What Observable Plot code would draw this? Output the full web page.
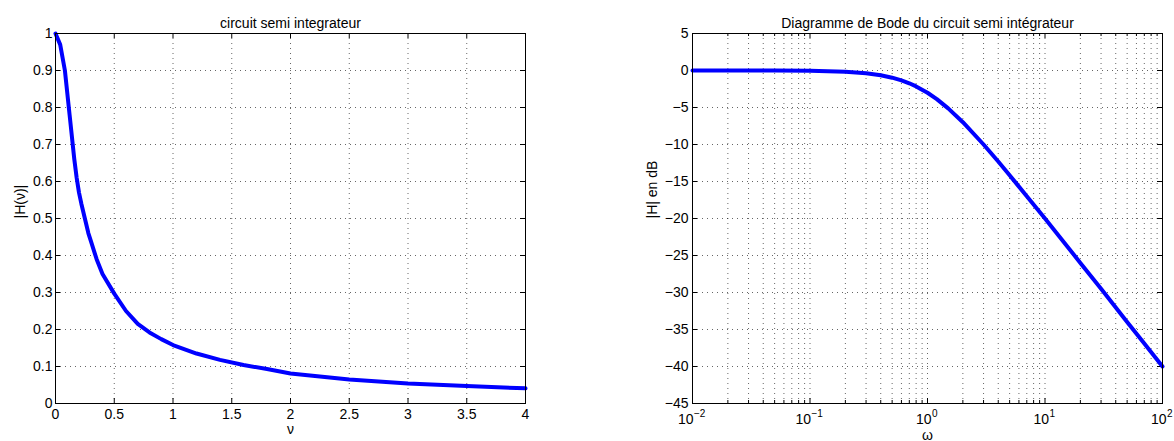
<!DOCTYPE html>
<html>
<head>
<meta charset="utf-8">
<script src="https://cdn.jsdelivr.net/npm/d3@7"></script>
<script src="https://cdn.jsdelivr.net/npm/@observablehq/plot@0.6"></script>
<style>
  html, body { margin: 0; padding: 0; background: #fff; }
  #wrap { position: relative; width: 1174px; height: 441px; overflow: hidden; background: #fff; }
  #left, #right { position: absolute; top: 0; }
  #left { left: 0; }
  #right { left: 587px; }
</style>
</head>
<body>
<div id="wrap"><div id="left"></div><div id="right"></div></div>
<script>
// ---- Left chart data: |H(nu)| vs nu
const nu = [0, 0.04, 0.08, 0.12, 0.16, 0.18, 0.2, 0.22, 0.25, 0.28, 0.3, 0.35, 0.4, 0.5, 0.6, 0.7, 0.8, 0.9, 1.0, 1.2, 1.4, 1.6, 1.8, 2.0, 2.5, 3.0, 3.5, 4.0];
const Hnu = [1, 0.97, 0.90, 0.78, 0.66, 0.61, 0.57, 0.54, 0.50, 0.46, 0.44, 0.39, 0.35, 0.297, 0.25, 0.215, 0.192, 0.174, 0.158, 0.135, 0.118, 0.104, 0.093, 0.081, 0.065, 0.054, 0.047, 0.041];
const xTicksL = [0, 0.5, 1, 1.5, 2, 2.5, 3, 3.5, 4];
const yTicksL = [0, 0.1, 0.2, 0.3, 0.4, 0.5, 0.6, 0.7, 0.8, 0.9, 1];

// ---- Right chart data: Bode magnitude (dB) vs omega
const omega = [0.01, 0.02, 0.05, 0.1, 0.2, 0.3, 0.4, 0.5, 0.6, 0.7, 0.8, 1, 1.2, 1.5, 2, 3, 4, 5, 7, 10, 15, 20, 30, 50, 70, 100];
const dB = [0, 0, -0.01, -0.04, -0.17, -0.37, -0.64, -0.97, -1.34, -1.73, -2.15, -3.01, -3.87, -5.12, -6.99, -10.0, -12.3, -14.15, -17.0, -20.0, -23.5, -26.0, -29.5, -34.0, -36.9, -40.0];
const decades = [0.01, 0.1, 1, 10, 100];
const exponents = ["\u22122", "\u22121", "0", "1", "2"];
const multipliers = [2, 3, 4, 5, 6, 7, 8, 9];
const yTicksR = [5, 0, -5, -10, -15, -20, -25, -30, -35, -40, -45];

const leftTitle = "circuit semi integrateur";
const rightTitle = "Diagramme de Bode du circuit semi intégrateur";

const font = "'Liberation Sans', Arial, Helvetica, sans-serif";
const styleObj = { fontFamily: font, fontSize: "14px", background: "white", color: "black", overflow: "visible" };
const grid = { stroke: "#000", strokeOpacity: 0.6, strokeDasharray: "1,4" };
const blue = "#0000ff";
const fmtPlain = d => String(d);
const fmtMinus = d => (d < 0 ? "\u2212" + Math.abs(d) : String(d));

// ---------------- Left plot
const W = 587, HT = 441;
const mL = { l: 55, r: 62, t: 33, b: 38 };
const innerWL = W - mL.l - mL.r, innerHL = HT - mL.t - mL.b;
const leftData = nu.map((v, i) => ({ nu: v, h: Hnu[i] }));

const left = Plot.plot({
  width: W, height: HT,
  marginLeft: mL.l, marginRight: mL.r, marginTop: mL.t, marginBottom: mL.b,
  x: { domain: [0, 4], axis: null },
  y: { domain: [0, 1], axis: null },
  style: styleObj,
  marks: [
    Plot.ruleX(xTicksL.slice(1, -1), grid),
    Plot.ruleY(yTicksL.slice(1, -1), grid),
    Plot.ruleX(xTicksL, { insetTop: innerHL - 5, stroke: "#000" }),
    Plot.ruleX(xTicksL, { insetBottom: innerHL - 5, stroke: "#000" }),
    Plot.ruleY(yTicksL, { insetRight: innerWL - 5, stroke: "#000" }),
    Plot.ruleY(yTicksL, { insetLeft: innerWL - 5, stroke: "#000" }),
    Plot.line(leftData, { x: "nu", y: "h", stroke: blue, strokeWidth: 4, strokeLinejoin: "round" }),
    Plot.frame({ stroke: "#000" }),
    Plot.axisX(xTicksL, { tickSize: 0, tickPadding: 6, label: null, fontSize: 14, tickFormat: fmtPlain }),
    Plot.axisY(yTicksL, { tickSize: 0, tickPadding: 3, label: null, fontSize: 14, tickFormat: fmtPlain }),
    Plot.text([leftTitle], { text: d => d, frameAnchor: "top", dy: -15, fontSize: 14 }),
    Plot.text(["ν"], { text: d => d, frameAnchor: "bottom", dy: 30, fontSize: 14 }),
    Plot.text(["|H(ν)|"], { text: d => d, frameAnchor: "left", dx: -35, rotate: -90, fontSize: 14 })
  ]
});
document.getElementById("left").appendChild(left);

// ---------------- Right plot
const mR = { l: 105, r: 12, t: 33, b: 38 };
const innerWR = W - mR.l - mR.r, innerHR = HT - mR.t - mR.b;
const rightData = omega.map((w, i) => ({ w, db: dB[i] }));
const minorX = decades.slice(0, 4).flatMap(d => multipliers.map(m => +(d * m).toPrecision(6)));
const xLabels = decades.map((d, i) => ({ d, e: exponents[i] }));
const negLabels = xLabels.filter(o => o.d < 1);
const posLabels = xLabels.filter(o => o.d >= 1);

const right = Plot.plot({
  width: W, height: HT,
  marginLeft: mR.l, marginRight: mR.r, marginTop: mR.t, marginBottom: mR.b,
  x: { type: "log", domain: [0.01, 100], axis: null },
  y: { domain: [-45, 5], axis: null },
  style: styleObj,
  marks: [
    Plot.ruleX([...minorX, ...decades.slice(1, 4)], grid),
    Plot.ruleY(yTicksR.slice(1, -1), grid),
    Plot.ruleX(decades, { insetTop: innerHR - 5, stroke: "#000" }),
    Plot.ruleX(decades, { insetBottom: innerHR - 5, stroke: "#000" }),
    Plot.ruleX(minorX, { insetTop: innerHR - 3, stroke: "#000" }),
    Plot.ruleX(minorX, { insetBottom: innerHR - 3, stroke: "#000" }),
    Plot.ruleY(yTicksR, { insetRight: innerWR - 5, stroke: "#000" }),
    Plot.ruleY(yTicksR, { insetLeft: innerWR - 5, stroke: "#000" }),
    Plot.line(rightData, { x: "w", y: "db", stroke: blue, strokeWidth: 4, strokeLinejoin: "round" }),
    Plot.frame({ stroke: "#000" }),
    Plot.axisY(yTicksR, { tickSize: 0, tickPadding: 4, label: null, fontSize: 14, tickFormat: fmtMinus }),
    Plot.text(negLabels, { x: "d", text: () => "10", frameAnchor: "bottom", textAnchor: "end", lineAnchor: "top", dx: 1, dy: 11, fontSize: 14 }),
    Plot.text(negLabels, { x: "d", text: "e", frameAnchor: "bottom", textAnchor: "start", lineAnchor: "top", dx: 1.5, dy: 6.5, fontSize: 10 }),
    Plot.text(posLabels, { x: "d", text: () => "10", frameAnchor: "bottom", textAnchor: "end", lineAnchor: "top", dx: 4, dy: 11, fontSize: 14 }),
    Plot.text(posLabels, { x: "d", text: "e", frameAnchor: "bottom", textAnchor: "start", lineAnchor: "top", dx: 4.5, dy: 6.5, fontSize: 10 }),
    Plot.text([rightTitle], { text: d => d, frameAnchor: "top", dy: -15, fontSize: 14 }),
    Plot.text(["ω"], { text: d => d, frameAnchor: "bottom", dy: 36, fontSize: 14 }),
    Plot.text(["|H| en dB"], { text: d => d, frameAnchor: "left", dx: -39.5, rotate: -90, fontSize: 14 })
  ]
});
document.getElementById("right").appendChild(right);
</script>
</body>
</html>
